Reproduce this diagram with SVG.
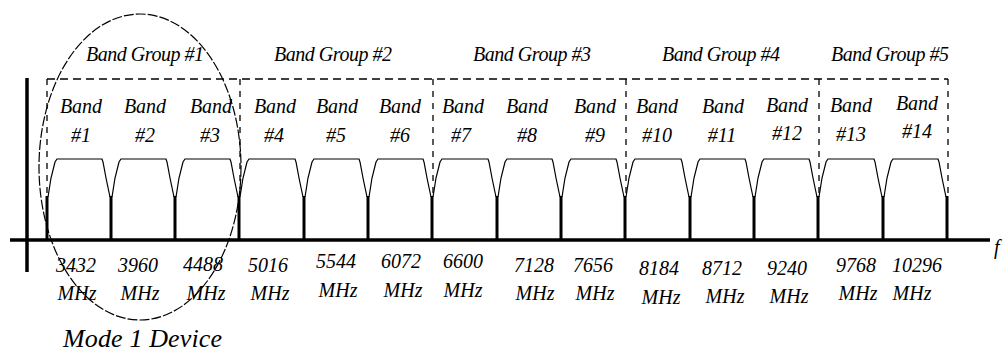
<svg xmlns="http://www.w3.org/2000/svg" width="1003" height="356" viewBox="0 0 1003 356">
<style>
  text { font-family: "Liberation Serif", "Times New Roman", serif; font-style: italic; fill: #000; }
  .lbl { font-size: 20px; text-anchor: middle; }
  .title { font-size: 26px; }
  .band { fill: none; stroke: #000; stroke-width: 1.2; }
  .stem { stroke: #000; stroke-width: 3; }
  .axis { stroke: #000; stroke-width: 3.5; fill: none; }
  .dash { stroke: #000; stroke-width: 1.3; stroke-dasharray: 8 5; fill: none; }
  .vdash { stroke: #000; stroke-width: 1.3; stroke-dasharray: 6 6; fill: none; }
  .ring { fill: none; stroke: #000; stroke-width: 1.2; stroke-dasharray: 10 2; }
</style>
<rect width="1003" height="356" fill="#fff"/>

<g id="axes">
  <line class="axis" x1="27" y1="78" x2="27" y2="272"/>
  <line class="axis" x1="10" y1="240" x2="990" y2="240"/>
  <text x="994" y="254" style="font-size:20px">f</text>
</g>

<g id="connectors">
  <line class="stem" x1="47" y1="196" x2="47" y2="240"/>
  <line class="stem" x1="111" y1="196" x2="111" y2="240"/>
  <line class="stem" x1="175" y1="196" x2="175" y2="240"/>
  <line class="stem" x1="239" y1="196" x2="239" y2="240"/>
  <line class="stem" x1="304" y1="196" x2="304" y2="240"/>
  <line class="stem" x1="368" y1="196" x2="368" y2="240"/>
  <line class="stem" x1="432" y1="196" x2="432" y2="240"/>
  <line class="stem" x1="497" y1="196" x2="497" y2="240"/>
  <line class="stem" x1="561" y1="196" x2="561" y2="240"/>
  <line class="stem" x1="625" y1="196" x2="625" y2="240"/>
  <line class="stem" x1="690" y1="196" x2="690" y2="240"/>
  <line class="stem" x1="754" y1="196" x2="754" y2="240"/>
  <line class="stem" x1="818" y1="196" x2="818" y2="240"/>
  <line class="stem" x1="883" y1="196" x2="883" y2="240"/>
  <line class="stem" x1="947" y1="196" x2="947" y2="240"/>
</g>

<g id="group-boxes">
  <line class="dash" x1="47" y1="79" x2="948" y2="79"/>
  <line class="vdash" x1="47" y1="79" x2="47" y2="195"/>
  <line class="vdash" x1="240" y1="79" x2="240" y2="195"/>
  <line class="vdash" x1="433" y1="79" x2="433" y2="195"/>
  <line class="vdash" x1="626" y1="79" x2="626" y2="195"/>
  <line class="vdash" x1="819" y1="79" x2="819" y2="195"/>
  <line class="vdash" x1="948" y1="79" x2="948" y2="195"/>
</g>

<g id="group-labels">
  <text id="bg1" class="lbl" x="145" y="61" textLength="118">Band Group #1</text>
  <text id="bg2" class="lbl" x="333" y="61" textLength="118">Band Group #2</text>
  <text id="bg3" class="lbl" x="532" y="61" textLength="118">Band Group #3</text>
  <text id="bg4" class="lbl" x="721" y="61" textLength="118">Band Group #4</text>
  <text id="bg5" class="lbl" x="890" y="61" textLength="118">Band Group #5</text>
</g>

<g id="band1"><path class="band" d="M48 197 L51 178 L55 162 L57 159 H102 L103 162 L106 178 L110 197"/><text class="lbl" x="81" y="113">Band</text><text class="lbl" x="81" y="142">#1</text></g>
<g id="band2"><path class="band" d="M112 197 L115 178 L119 162 L121 159 H166 L167 162 L170 178 L174 197"/><text class="lbl" x="145" y="113">Band</text><text class="lbl" x="145" y="142">#2</text></g>
<g id="band3"><path class="band" d="M176 197 L179 178 L183 162 L185 159 H230 L231 162 L234 178 L238 197"/><text class="lbl" x="211" y="113">Band</text><text class="lbl" x="210" y="142">#3</text></g>
<g id="band4"><path class="band" d="M240 197 L243 178 L247 162 L249 159 H295 L296 162 L299 178 L303 197"/><text class="lbl" x="275" y="113">Band</text><text class="lbl" x="274" y="142">#4</text></g>
<g id="band5"><path class="band" d="M305 197 L308 178 L312 162 L314 159 H359 L360 162 L363 178 L367 197"/><text class="lbl" x="337" y="113">Band</text><text class="lbl" x="336" y="142">#5</text></g>
<g id="band6"><path class="band" d="M369 197 L372 178 L376 162 L378 159 H423 L424 162 L427 178 L431 197"/><text class="lbl" x="400" y="113">Band</text><text class="lbl" x="400" y="142">#6</text></g>
<g id="band7"><path class="band" d="M433 197 L436 178 L440 162 L442 159 H488 L489 162 L492 178 L496 197"/><text class="lbl" x="463" y="113">Band</text><text class="lbl" x="461" y="142">#7</text></g>
<g id="band8"><path class="band" d="M498 197 L501 178 L505 162 L507 159 H552 L553 162 L556 178 L560 197"/><text class="lbl" x="527" y="113">Band</text><text class="lbl" x="527" y="142">#8</text></g>
<g id="band9"><path class="band" d="M562 197 L565 178 L569 162 L571 159 H616 L617 162 L620 178 L624 197"/><text class="lbl" x="595" y="113">Band</text><text class="lbl" x="595" y="142">#9</text></g>
<g id="band10"><path class="band" d="M626 197 L629 178 L633 162 L635 159 H681 L682 162 L685 178 L689 197"/><text class="lbl" x="657" y="113">Band</text><text class="lbl" x="657" y="142">#10</text></g>
<g id="band11"><path class="band" d="M691 197 L694 178 L698 162 L700 159 H745 L746 162 L749 178 L753 197"/><text class="lbl" x="723" y="113">Band</text><text class="lbl" x="722" y="142">#11</text></g>
<g id="band12"><path class="band" d="M755 197 L758 178 L762 162 L764 159 H809 L810 162 L813 178 L817 197"/><text class="lbl" x="787" y="112">Band</text><text class="lbl" x="787" y="140">#12</text></g>
<g id="band13"><path class="band" d="M819 197 L822 178 L826 162 L828 159 H874 L875 162 L878 178 L882 197"/><text class="lbl" x="851" y="112">Band</text><text class="lbl" x="851" y="141">#13</text></g>
<g id="band14"><path class="band" d="M884 197 L887 178 L891 162 L893 159 H938 L939 162 L942 178 L946 197"/><text class="lbl" x="917" y="110">Band</text><text class="lbl" x="917" y="138">#14</text></g>

<g id="freq-labels">
  <text class="lbl" x="76" y="272">3432</text><text class="lbl" x="77" y="300">MHz</text>
  <text class="lbl" x="138" y="272">3960</text><text class="lbl" x="140" y="300">MHz</text>
  <text class="lbl" x="203" y="271">4488</text><text class="lbl" x="206" y="300">MHz</text>
  <text class="lbl" x="268" y="272">5016</text><text class="lbl" x="270" y="300">MHz</text>
  <text class="lbl" x="336" y="268">5544</text><text class="lbl" x="338" y="297">MHz</text>
  <text class="lbl" x="401" y="268">6072</text><text class="lbl" x="403" y="297">MHz</text>
  <text class="lbl" x="463" y="268">6600</text><text class="lbl" x="463" y="297">MHz</text>
  <text class="lbl" x="534" y="272">7128</text><text class="lbl" x="535" y="300">MHz</text>
  <text class="lbl" x="593" y="272">7656</text><text class="lbl" x="595" y="300">MHz</text>
  <text class="lbl" x="659" y="275">8184</text><text class="lbl" x="661" y="304">MHz</text>
  <text class="lbl" x="722" y="275">8712</text><text class="lbl" x="725" y="303">MHz</text>
  <text class="lbl" x="787" y="275">9240</text><text class="lbl" x="789" y="303">MHz</text>
  <text class="lbl" x="856" y="272">9768</text><text class="lbl" x="858" y="300">MHz</text>
  <text class="lbl" x="917" y="272">10296</text><text class="lbl" x="912" y="300">MHz</text>
</g>

<g id="mode1-device">
  <ellipse class="ring" cx="140" cy="167" rx="101" ry="153"/>
  <text class="title" x="63" y="347" textLength="159">Mode 1 Device</text>
</g>
</svg>
